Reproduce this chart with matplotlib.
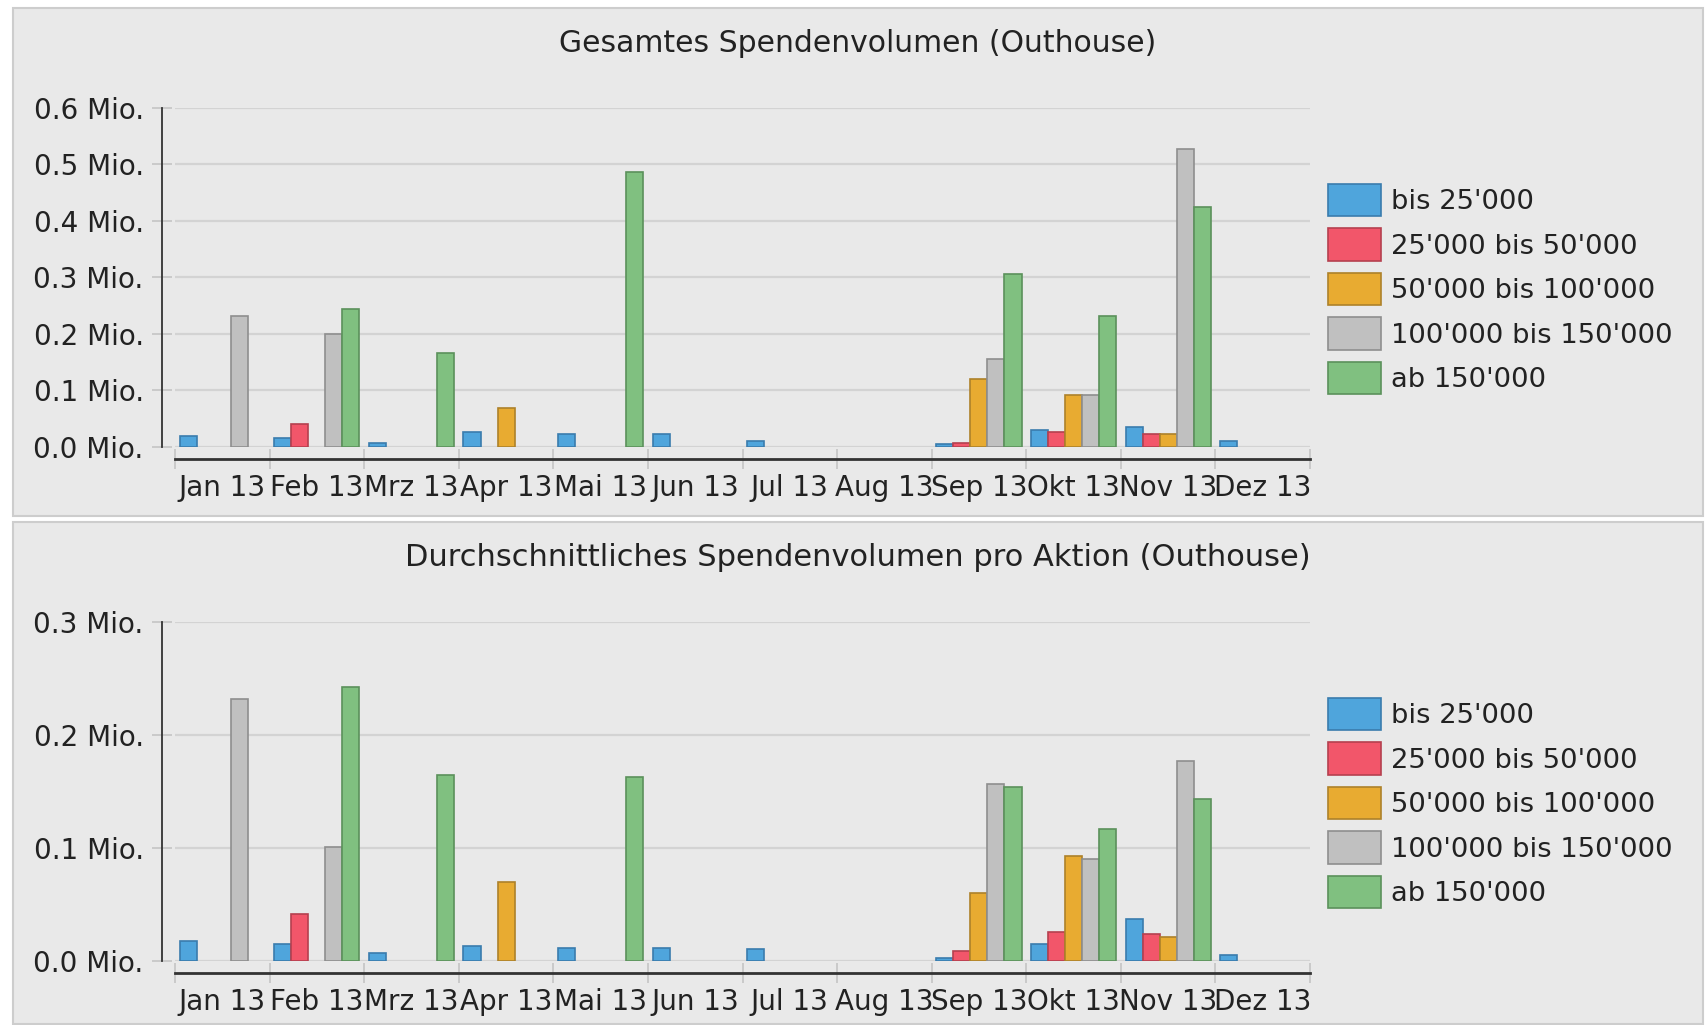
import matplotlib
matplotlib.use("Agg")
import matplotlib.pyplot as plt
from matplotlib.patches import Rectangle
from matplotlib.ticker import FuncFormatter
import numpy as np

plt.rcParams['font.family'] = ['DejaVu Sans']

months = ["Jan 13", "Feb 13", "Mrz 13", "Apr 13", "Mai 13", "Jun 13",
          "Jul 13", "Aug 13", "Sep 13", "Okt 13", "Nov 13", "Dez 13"]
categories = ["bis 25'000", "25'000 bis 50'000", "50'000 bis 100'000",
              "100'000 bis 150'000", "ab 150'000"]

# Gesamtes Spendenvolumen (Mio.)
total_bis25 = [0.0195, 0.0165, 0.007, 0.0266, 0.023, 0.023, 0.010, 0, 0.0045, 0.0296, 0.0355, 0.0106]
total_25_50 = [0, 0.0414, 0, 0, 0, 0, 0, 0, 0.0077, 0.026, 0.023, 0]
total_50_100 = [0, 0, 0, 0.0697, 0, 0, 0, 0, 0.120, 0.0916, 0.023, 0]
total_100_150 = [0.2317, 0.2003, 0, 0, 0, 0, 0, 0, 0.1566, 0.0916, 0.528, 0]
total_ab150 = [0, 0.244, 0.1667, 0, 0.487, 0, 0, 0, 0.306, 0.2317, 0.425, 0]

# Durchschnittliches Spendenvolumen pro Aktion (Mio.)
avg_bis25 = [0.0177, 0.0148, 0.0071, 0.0133, 0.0118, 0.0118, 0.0103, 0, 0.0024, 0.0148, 0.037, 0.0056]
avg_25_50 = [0, 0.0414, 0, 0, 0, 0, 0, 0, 0.0086, 0.0257, 0.0242, 0]
avg_50_100 = [0, 0, 0, 0.0695, 0, 0, 0, 0, 0.0603, 0.0931, 0.0213, 0]
avg_100_150 = [0.2317, 0.1005, 0, 0, 0, 0, 0, 0, 0.157, 0.0907, 0.1774, 0]
avg_ab150 = [0, 0.2427, 0.1646, 0, 0.1632, 0, 0, 0, 0.1537, 0.1165, 0.143, 0]

face_colors = ['#4fa5dc', '#f2566a', '#e8ab31', '#c0c0c0', '#80c080']
edge_colors = ['#3a7cad', '#b5404f', '#ad812a', '#8e8e8e', '#5b915b']

W, H = 1708, 1025
fig = plt.figure(figsize=(W / 100, H / 100), dpi=100)
fig.patch.set_facecolor('white')

# panel boxes (pixel coords, top-left origin)
for (x0, y0, x1, y1) in [(13, 8, 1703, 516), (13, 522, 1703, 1024)]:
    fig.patches.append(Rectangle((x0 / W, 1 - y1 / H), (x1 - x0) / W, (y1 - y0) / H,
                                 transform=fig.transFigure, facecolor='#e9e9e9',
                                 edgecolor='#cdcdcd', lw=1.5, zorder=-5))


def draw_panel(rect, series, ymax, title, title_y, legend_y, title_size):
    ax = fig.add_axes(rect)
    ax.set_zorder(2)
    ax.set_facecolor('none')
    x = np.arange(len(months))
    width = 0.18
    offsets = [-0.36, -0.18, 0.0, 0.18, 0.36]
    for vals, off, fc, ec, lab in zip(series, offsets, face_colors, edge_colors, categories):
        v = np.array(vals, dtype=float)
        v[v == 0] = np.nan
        ax.bar(x + 0.5 + off, v, width, color=fc, edgecolor=ec, linewidth=1.2,
               label=lab, zorder=3)

    ax.set_xlim(0, len(months))
    ax.set_ylim(0, ymax)
    ax.set_yticks(np.arange(0, ymax + 0.001, 0.1))
    ax.yaxis.set_major_formatter(FuncFormatter(lambda v, p: f"{v:.1f} Mio."))
    ax.yaxis.grid(True, color='#d3d3d3', lw=1.6, zorder=0)
    ax.set_axisbelow(True)

    ax.set_xticks(np.arange(len(months) + 1))
    ax.set_xticklabels([])
    ax.set_xticks(x + 0.5, minor=True)
    ax.set_xticklabels(months, minor=True)
    ax.tick_params(axis='x', which='minor', length=0, pad=11, labelsize=20, labelcolor='#222222')
    ax.tick_params(axis='x', which='major', direction='inout', length=14, width=1.2, color='#c4c4c4')
    ax.tick_params(axis='y', direction='inout', length=14, width=1.2, color='#c4c4c4',
                   pad=6, labelsize=20, labelcolor='#222222')

    for s in ['top', 'right']:
        ax.spines[s].set_visible(False)
    ax.spines['left'].set_position(('outward', 9.5))
    ax.spines['left'].set_color('#333333')
    ax.spines['left'].set_linewidth(1.3)
    ax.spines['bottom'].set_position(('outward', 8.6))
    ax.spines['bottom'].set_color('#333333')
    ax.spines['bottom'].set_linewidth(2)

    fig.text(858 / W, 1 - title_y / H, title, ha='center', va='center',
             fontsize=title_size, color='#222222')
    ax.legend(loc='center left', bbox_to_anchor=(1314 / W, 1 - legend_y / H),
              bbox_transform=fig.transFigure, frameon=False, fontsize=19.7,
              handlelength=1.95, handleheight=1.45, handletextpad=0.36,
              labelspacing=0.44, borderpad=0, labelcolor='#222222')
    return ax


left = 175 / W
width = (1310 - 175) / W
draw_panel([left, 1 - 447 / H, width, (447 - 108) / H],
           [total_bis25, total_25_50, total_50_100, total_100_150, total_ab150],
           0.6, "Gesamtes Spendenvolumen (Outhouse)", 43, 289, 21.5)
draw_panel([left, 1 - 961 / H, width, (961 - 622) / H],
           [avg_bis25, avg_25_50, avg_50_100, avg_100_150, avg_ab150],
           0.3, "Durchschnittliches Spendenvolumen pro Aktion (Outhouse)", 557, 803, 22)

fig.savefig("out.png", dpi=100)
